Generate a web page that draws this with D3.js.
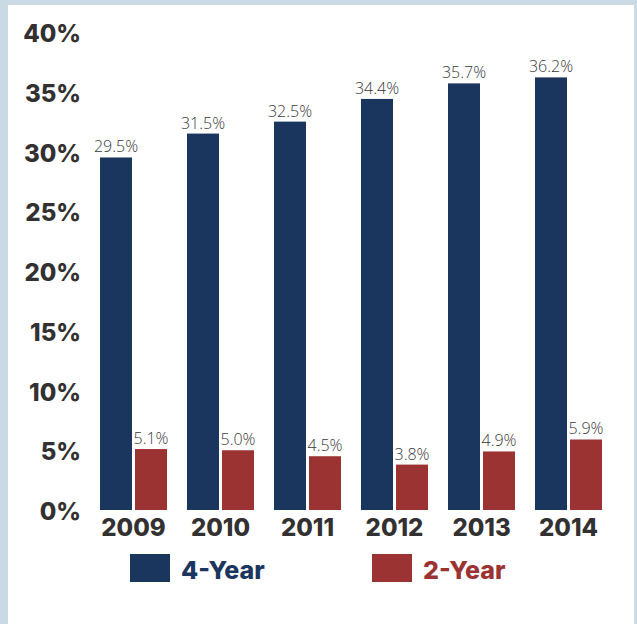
<!DOCTYPE html>
<html>
<head>
<meta charset="utf-8">
<script src="https://cdn.jsdelivr.net/npm/d3@7"></script>
<style>
  html, body { margin: 0; padding: 0; background: #c9dae5; }
  svg { display: block; }
</style>
</head>
<body>
<script>
// data
var years = ['2009', '2010', '2011', '2012', '2013', '2014'];
var fourYear = [29.5, 31.5, 32.5, 34.4, 35.7, 36.2];
var twoYear = [5.1, 5.0, 4.5, 3.8, 4.9, 5.9];
var seriesNames = ['4-Year', '2-Year'];
var yTicks = [0, 5, 10, 15, 20, 25, 30, 35, 40];

var W = 637, H = 624;
var blue = '#1a365f', red = '#9b3333', ink = '#333031';
var boldFont = 'Inter, "Noto Sans", sans-serif';
var lightFont = '"Open Sans", Lato, sans-serif';

var svg = d3.select('body').append('svg').attr('width', W).attr('height', H);

/* white panel inside the light blue frame */
svg.append('rect').attr('x', 8).attr('y', 5).attr('width', 626).attr('height', H - 5).attr('fill', '#fff');

var y = d3.scaleLinear().domain([0, 40]).range([510, 32]);
var x0 = d3.scaleBand().domain(years).range([90, 612]).paddingInner(20 / 87).paddingOuter(10 / 87);
var x1 = d3.scaleBand().domain(seriesNames).range([0, x0.bandwidth()]).paddingInner(3 / 35);
var color = d3.scaleOrdinal().domain(seriesNames).range([blue, red]);

var rows = years.map(function(yr, i) {
	return { year: yr, vals: [ { k: '4-Year', v: fourYear[i] }, { k: '2-Year', v: twoYear[i] } ] };
});

/* y axis labels */
var yAxis = svg.append('g').attr('transform', 'translate(81,2)')
	.call(d3.axisLeft(y).tickValues(yTicks).tickSize(0).tickPadding(0).tickFormat(function(d){ return d + '%'; }));
yAxis.select('.domain').remove();
yAxis.selectAll('text').attr('fill', ink).style('font-family', boldFont).style('font-weight', 800).style('font-size', '24px');

/* x axis labels */
var xAxis = svg.append('g').attr('transform', 'translate(0,510)')
	.call(d3.axisBottom(x0).tickSize(0).tickPadding(9));
xAxis.select('.domain').remove();
xAxis.selectAll('text').attr('fill', ink).style('font-family', boldFont).style('font-weight', 800).style('font-size', '24px');

/* bars */
var grp = svg.selectAll('.grp').data(rows).enter().append('g')
	.attr('transform', function(d){ return 'translate(' + x0(d.year) + ',0)'; });

grp.selectAll('rect').data(function(d){ return d.vals; }).enter().append('rect')
	.attr('x', function(d){ return x1(d.k); })
	.attr('y', function(d){ return y(d.v); })
	.attr('width', x1.bandwidth())
	.attr('height', function(d){ return y(0) - y(d.v); })
	.attr('fill', function(d){ return color(d.k); });

grp.selectAll('text').data(function(d){ return d.vals; }).enter().append('text')
	.attr('x', function(d){ return x1(d.k) + x1.bandwidth() / 2; })
	.attr('y', function(d){ return y(d.v) - 5; })
	.attr('text-anchor', 'middle')
	.attr('fill', '#3a3a3a')
	.style('font-family', lightFont).style('font-weight', 300).style('font-size', '16px')
	.text(function(d){ return d.v.toFixed(1) + '%'; });

/* legend */
var legX = d3.scaleOrdinal().domain(seriesNames).range([130, 372]);
var leg = svg.selectAll('.leg').data(seriesNames).enter().append('g')
	.attr('transform', function(d){ return 'translate(' + legX(d) + ',554)'; });
leg.append('rect').attr('width', 40).attr('height', 28).attr('fill', function(d){ return color(d); });
leg.append('text').attr('x', 51).attr('y', 25)
	.attr('fill', function(d){ return color(d); })
	.style('font-family', boldFont).style('font-weight', 800).style('font-size', '25px')
	.text(function(d){ return d; });
</script>
</body>
</html>
